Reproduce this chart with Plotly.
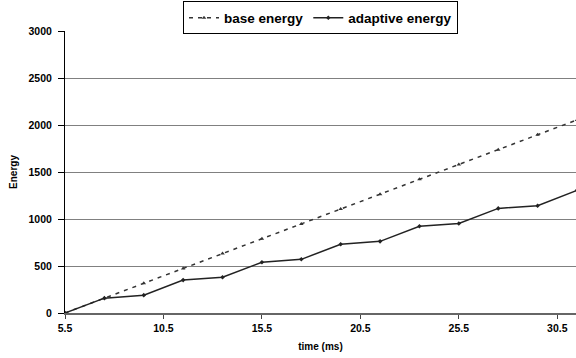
import plotly.graph_objects as go

time_ms = [5.5, 7.5, 9.5, 11.5, 13.5, 15.5, 17.5, 19.5, 21.5, 23.5, 25.5, 27.5, 29.5, 31.5]
base_energy = [0, 158, 316, 474, 632, 790, 948, 1106, 1264, 1422, 1580, 1738, 1896, 2054]
adaptive_energy = [0, 158, 190, 350, 381, 540, 571, 731, 762, 922, 952, 1113, 1141, 1305]
x_ticks = [5.5, 10.5, 15.5, 20.5, 25.5, 30.5]
y_ticks = [0, 500, 1000, 1500, 2000, 2500, 3000]

FONT = "Liberation Sans"

fig = go.Figure()
fig.add_trace(go.Scatter(
    x=time_ms, y=base_energy, name="<b>base energy</b>", mode="lines+markers",
    line=dict(color="#333333", width=1.5, dash="4px,5px"),
    marker=dict(symbol="triangle-up", size=4, color="#333333"),
))
fig.add_trace(go.Scatter(
    x=time_ms, y=adaptive_energy, name="<b>adaptive energy</b>", mode="lines+markers",
    line=dict(color="#222222", width=1.5),
    marker=dict(symbol="diamond", size=3.5, color="#222222"),
))

fig.update_layout(
    width=576, height=358,
    margin=dict(l=65, r=0, t=31, b=45),
    paper_bgcolor="white", plot_bgcolor="white",
    font=dict(family=FONT, color="black"),
    showlegend=True,
    legend=dict(
        orientation="h", x=0.5, xanchor="center", y=1.105, yanchor="top",
        bordercolor="black", borderwidth=1, bgcolor="white",
        font=dict(family=FONT, size=13.5, color="black"),
        itemwidth=30, tracegroupgap=0,
    ),
    xaxis=dict(
        range=[5.5, 31.45], tickvals=x_ticks, ticktext=[f"<b>{v}</b>" for v in x_ticks],
        showgrid=False, zeroline=False,
        showline=True, linecolor="#666666", linewidth=2,
        ticks="outside", ticklen=4, tickcolor="#444444", tickwidth=1,
        tickfont=dict(family=FONT, size=10.5, color="black"),
        title=dict(text="<b>time (ms)</b>", font=dict(family=FONT, size=10, color="black"), standoff=10),
    ),
    yaxis=dict(
        range=[0, 3000], tickvals=y_ticks, ticktext=[f"<b>{v}</b>" for v in y_ticks],
        showgrid=True, gridcolor="#808080", gridwidth=1, zeroline=False,
        showline=True, linecolor="black", linewidth=1,
        ticks="outside", ticklen=6, tickcolor="black", tickwidth=1,
        ticklabelstandoff=4,
        tickfont=dict(family=FONT, size=10.5, color="black"),
        title=dict(text="<b>Energy</b>", font=dict(family=FONT, size=10, color="black"), standoff=9),
    ),
)

fig.write_html("out.html")
